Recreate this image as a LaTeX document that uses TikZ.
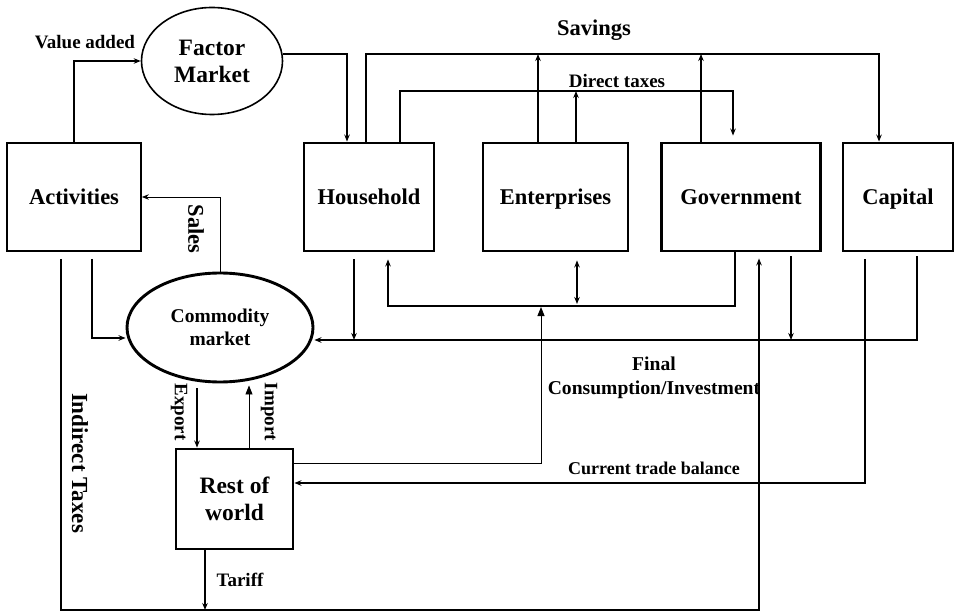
\documentclass[tikz,border=0pt]{standalone}
\usepackage{fontspec}
\setmainfont{Liberation Serif}
\usetikzlibrary{arrows.meta,shapes.geometric}
\begin{document}
\begin{tikzpicture}[x=1pt,y=-1pt,
  agent/.style={draw,rectangle,inner sep=0pt,line width=2.9pt,minimum height=108pt,
    text height=16pt,text depth=0pt,font=\bfseries\fontsize{22.5}{28}\selectfont},
  plainbox/.style={agent,line width=1.7pt},
  market/.style={draw,ellipse,inner sep=0pt,align=center},
  flow/.style={line width=1.3pt,-{Stealth[length=7pt,width=5.5pt]}},
  thinflow/.style={flow,line width=0.9pt},
  bigtip/.style={-{Triangle[length=9pt,width=7pt]}},
  lbl/.style={font=\bfseries\fontsize{19}{25}\selectfont,align=center,inner sep=0pt},
]
\useasboundingbox (0,0) rectangle (958,612);

% ---- blocks of the circular flow ----
\node[plainbox,minimum width=134pt] (act) at (74,197) {Activities};
\node[agent,minimum width=130pt] (hh)  at (369,197) {Household};
\node[agent,minimum width=145pt] (ent) at (555.5,197) {Enterprises};
\node[agent,minimum width=159pt] (gov) at (741,197) {Government};
\node[agent,minimum width=110pt] (cap) at (898,197) {Capital};
\node[draw,rectangle,inner sep=0pt,line width=2.9pt,align=center,
      minimum width=117pt,minimum height=100pt,
      font=\bfseries\fontsize{23.5}{27}\selectfont] (row) at (234.5,499) {Rest of\\world};
\node[market,line width=1.6pt,minimum width=141pt,minimum height=107pt,
      font=\bfseries\fontsize{23.5}{27}\selectfont] (fm) at (212,61) {Factor\\Market};
\node[market,line width=2.9pt,minimum width=186pt,minimum height=109pt,
      font=\bfseries\fontsize{19.5}{23}\selectfont] (cm) at (220,327.5) {Commodity\\market};

% ---- points on the collecting lines ----
\coordinate (svE) at (538,54);
\coordinate (svG) at (701,54);
\coordinate (dtE) at (576,91);
\coordinate (fcH) at (354,340);
\coordinate (fcG) at (791,340);
\coordinate (trE) at (577,306);
\coordinate (trR) at (541,306);
\coordinate (tfB) at (205,610);

% ---- factor market ----
\draw[flow] (act.north) |- (fm.west);
\draw[flow] ([yshift=7pt]fm.east) -| (hh.north -| 347,0);

% ---- savings and direct taxes ----
\draw[flow] (hh.north -| 366,0) -- (366,54) -| (cap.north -| 879,0);
\draw[flow] (ent.north -| 538,0) -- (svE);
\draw[flow] (gov.north -| 701,0) -- (svG);
\draw[flow] (hh.north -| 400,0) -- (400,91) -| ([yshift=6pt]gov.north -| 733,0);
\draw[flow] (ent.north -| 576,0) -- (dtE);

% ---- commodity market ----
\draw[flow] ([yshift=-7pt]act.south -| 92,0) |- ([yshift=-10.5pt]cm.west);
\draw[thinflow] (cm.north) |- (act.east);
\draw[flow] ([yshift=-5pt]cm.south -| 197,0) -- (row.north -| 197,0);
\draw[thinflow,bigtip] (row.north -| 249,0) -- ([yshift=-2pt]cm.south -| 249,0);
\draw[flow] ([yshift=-7pt]hh.south -| 354,0) -- (fcH);
\draw[flow] ([yshift=-4pt]gov.south -| 791,0) -- (fcG);
\draw[flow] ([yshift=-4pt]cap.south -| 917,0) -- (917,340) -- ([yshift=-12.5pt]cm.east);

% ---- transfers between institutions ----
\draw[flow,shorten >=7pt] (gov.south -| 735,0) -- (735,306) -- (388,306) -- (hh.south -| 388,0);
\draw[line width=1.3pt,{Stealth[length=7pt,width=5.5pt]}-{Stealth[length=7pt,width=5.5pt]}]
  ([yshift=-8pt]ent.south -| 577,0) -- ([yshift=2pt]trE);
\draw[line width=0.9pt,bigtip] (row.east |- 0,463) -- (541,463) -- ([yshift=-1pt]trR);

% ---- taxes and foreign trade ----
\draw[flow] (row.south -| 205,0) -- (tfB);
\draw[flow] ([yshift=-7pt]act.south -| 61,0) -- (61,610) -- (759,610) -- ([yshift=-6pt]gov.south -| 759,0);
\draw[flow] ([yshift=-7pt]cap.south -| 865,0) -- (865,483) -- (row.east |- 0,483);

% ---- labels ----
\node[lbl,font=\bfseries\fontsize{19}{22}\selectfont] (lva) at (85,42) {Value added};
\node[lbl,font=\bfseries\fontsize{22.5}{26}\selectfont] (lsv) at (594,30) {Savings};
\node[lbl] (ldt) at (617,81) {Direct taxes};
\node[lbl,font=\bfseries\fontsize{22.5}{26}\selectfont,rotate=-90] (lsa) at (196,229) {Sales};
\node[lbl,rotate=-90] (lex) at (179,412) {Export};
\node[lbl,rotate=-90] (lim) at (269,412) {Import};
\node[lbl,font=\bfseries\fontsize{23}{26}\selectfont,rotate=-90] (lit) at (80,463) {Indirect Taxes};
\node[lbl] (ltf) at (240,580) {Tariff};
\node[lbl,font=\bfseries\fontsize{19.6}{24}\selectfont] (lfc) at (654,378) {Final\\Consumption/Investment};
\node[lbl,font=\bfseries\fontsize{18}{21}\selectfont] (lct) at (654,468) {Current trade balance};
\end{tikzpicture}
\end{document}
